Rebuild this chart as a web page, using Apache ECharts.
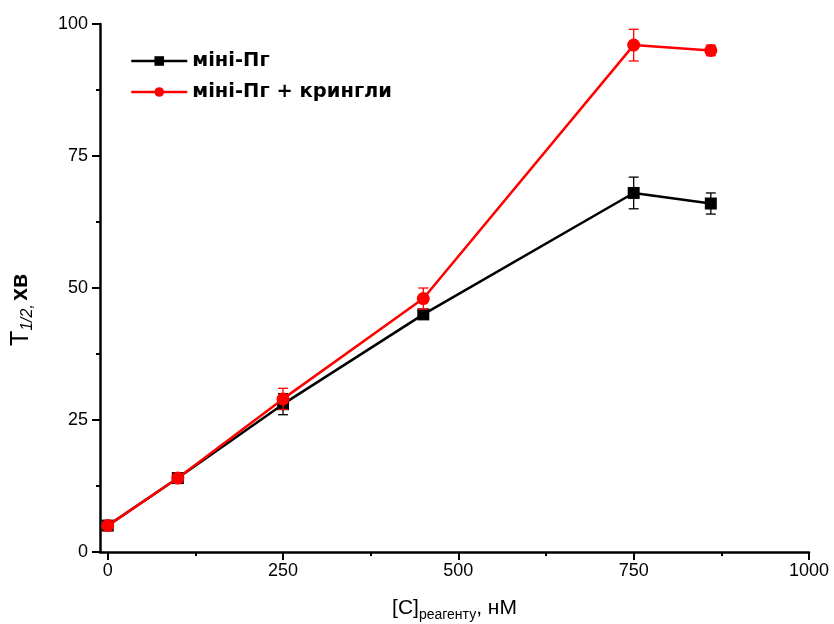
<!DOCTYPE html>
<html>
<head>
<meta charset="utf-8">
<script src="https://cdn.jsdelivr.net/npm/echarts@6/dist/echarts.min.js"></script>
<style>
  body { margin: 0; background: #fff; }
  #chart { width: 834px; height: 624px; }
</style>
</head>
<body>
<div id="chart"></div>
<script>
// concentrations, nM
const xValues = [0, 100, 250, 450, 750, 860];
// T1/2 values, min
const miniPg = [5, 14, 28, 45, 68, 66];
const miniPgErr = [0.5, 0.5, 2, 0.5, 3, 2];
const kringle = [5, 14, 29, 48, 96, 95];
const kringleErr = [0.5, 0.5, 2, 2, 3, 1];
const xTicks = [0, 250, 500, 750, 1000];
const xMinorTicks = [125, 375, 625, 875];

const font = 'Liberation Sans, Arial, sans-serif';
const legendFont = 'DejaVu Sans, Verdana, sans-serif';

function pairs (ys) {
  return xValues.map((x, i) => [x, ys[i]]);
}
function errData (ys, errs) {
  return xValues.map((x, i) => [x, ys[i] - errs[i], ys[i] + errs[i]]);
}
function errorBars (color) {
  return function (params, api) {
    const lo = api.coord([api.value(0), api.value(1)]);
    const hi = api.coord([api.value(0), api.value(2)]);
    const w = 5;
    const style = { stroke: color, lineWidth: 1.3 };
    return {
      type: 'group',
      children: [
        { type: 'line', shape: { x1: lo[0], y1: lo[1], x2: hi[0], y2: hi[1] }, style },
        { type: 'line', shape: { x1: lo[0] - w, y1: lo[1], x2: lo[0] + w, y2: lo[1] }, style },
        { type: 'line', shape: { x1: hi[0] - w, y1: hi[1], x2: hi[0] + w, y2: hi[1] }, style }
      ]
    };
  };
}

const myChart = echarts.init(document.getElementById('chart'));
const option = {
  backgroundColor: '#fff',
  animation: false,
  grid: { left: 100, right: 25, top: 24, bottom: 72, outerBoundsMode: 'none' },
  legend: {
    data: ['міні-Пг', 'міні-Пг + крингли'],
    orient: 'vertical',
    left: 130,
    top: 51,
    padding: 0,
    itemWidth: 56,
    itemHeight: 12,
    itemGap: 11,
    lineStyle: { width: 2.5 },
    textStyle: { fontFamily: legendFont, fontSize: 19.5, fontWeight: 'bold', color: '#000' }
  },
  graphic: [{
    type: 'text',
    x: 21,
    y: 310,
    rotation: Math.PI / 2,
    style: {
      text: '{a|T}{s|1/2}{s|,} {b|хв}',
      align: 'center',
      verticalAlign: 'middle',
      rich: {
        a: { fontFamily: font, fontSize: 25, fill: '#000' },
        b: { fontFamily: font, fontSize: 23, fontWeight: 'bold', fill: '#000' },
        s: { fontFamily: font, fontSize: 16, fontStyle: 'italic', fill: '#000', padding: [14, 0, 0, 0] }
      }
    }
  }],
  xAxis: [
    {
      type: 'value',
      min: -11,
      max: 1000,
      splitLine: { show: false },
      axisLine: { onZero: false, lineStyle: { color: '#000', width: 2.5 } },
      axisTick: { customValues: xTicks, length: 8, lineStyle: { color: '#000', width: 2 } },
      axisLabel: {
        customValues: xTicks, margin: 10, fontFamily: font, fontSize: 18, color: '#000',
        formatter: v => String(v)
      },
      name: '{a|[C]}{s|реагенту}{a|, нМ}',
      nameLocation: 'middle',
      nameGap: 43,
      nameTextStyle: {
        rich: {
          a: { fontFamily: font, fontSize: 21, color: '#000' },
          s: { fontFamily: font, fontSize: 14, color: '#000', padding: [13, 0, 0, 0] }
        }
      }
    },
    {
      type: 'value',
      min: -11,
      max: 1000,
      position: 'bottom',
      splitLine: { show: false },
      axisLine: { show: false },
      axisTick: { customValues: xMinorTicks, length: 4, lineStyle: { color: '#000', width: 2 } },
      axisLabel: { show: false }
    }
  ],
  yAxis: {
    type: 'value',
    min: 0,
    max: 100,
    interval: 25,
    splitLine: { show: false },
    axisLine: { onZero: false, lineStyle: { color: '#000', width: 2.5 } },
    axisTick: { length: 8, lineStyle: { color: '#000', width: 2 } },
    minorTick: { show: true, splitNumber: 2, length: 4, lineStyle: { color: '#000', width: 2 } },
    axisLabel: { margin: 12, fontFamily: font, fontSize: 18, color: '#000' }
  },
  series: [
    {
      name: 'міні-Пг',
      type: 'line',
      data: pairs(miniPg),
      symbol: 'rect',
      symbolSize: 12,
      lineStyle: { color: '#000', width: 2.5 },
      itemStyle: { color: '#000' },
      z: 3
    },
    {
      type: 'custom',
      data: errData(miniPg, miniPgErr),
      renderItem: errorBars('#000'),
      z: 2
    },
    {
      name: 'міні-Пг + крингли',
      type: 'line',
      data: pairs(kringle),
      symbol: 'circle',
      symbolSize: 13,
      lineStyle: { color: '#ff0000', width: 2.5 },
      itemStyle: { color: '#ff0000' },
      z: 5
    },
    {
      type: 'custom',
      data: errData(kringle, kringleErr),
      renderItem: errorBars('#ff0000'),
      z: 4
    }
  ]
};
myChart.setOption(option);
</script>
</body>
</html>
